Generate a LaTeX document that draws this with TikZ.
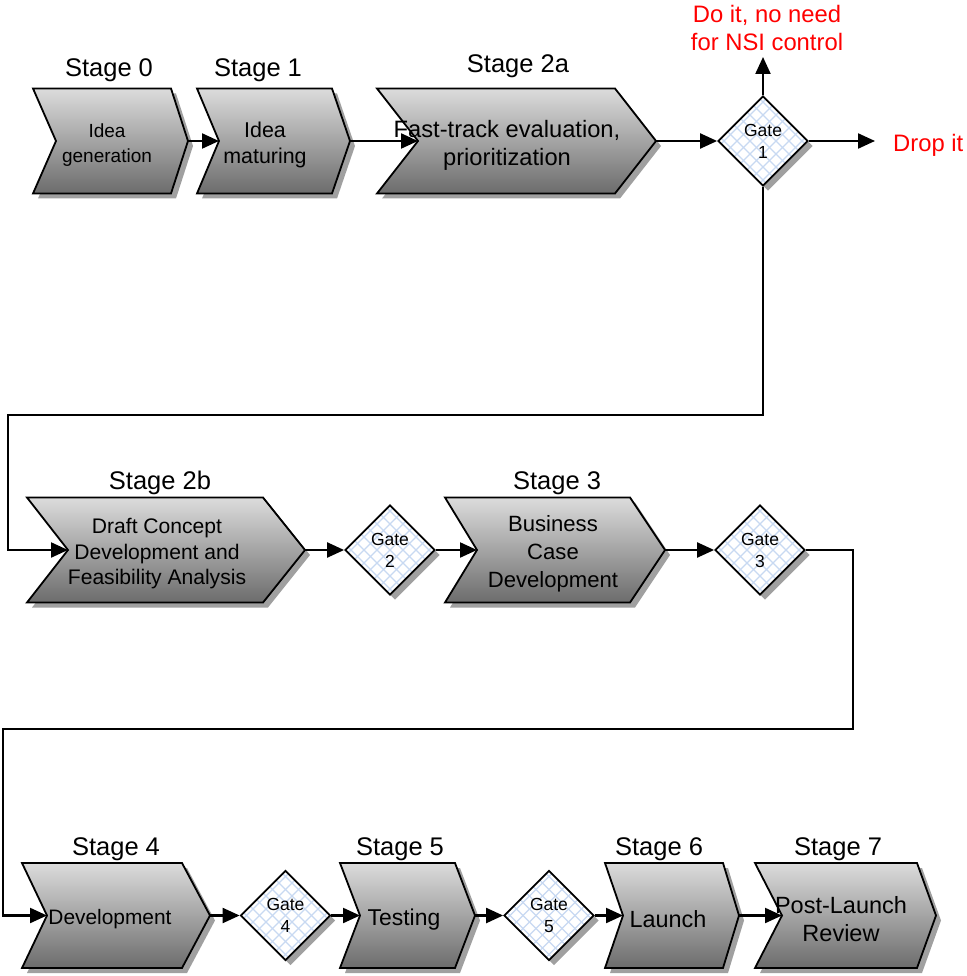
\documentclass[tikz,border=0pt]{standalone}
\usepackage{fontspec}
\setmainfont{Liberation Sans}
\usetikzlibrary{shapes.geometric,arrows.meta,shadows}

\definecolor{chtop}{RGB}{220,220,220}
\definecolor{chbot}{RGB}{108,108,108}
\definecolor{shadowgray}{RGB}{160,160,160}
\definecolor{gridblue}{RGB}{200,217,242}
\definecolor{notered}{RGB}{255,0,0}

\tikzset{
  chevron/.style={draw=black, line width=1.8pt, line join=miter,
    top color=chtop, bottom color=chbot},
  chshadow/.style={fill=shadowgray},
  chtext/.style={align=center, inner sep=0pt},
  stagelabel/.style={anchor=base, inner sep=0pt,
    font=\fontsize{25.5}{30}\selectfont},
  gate/.style={diamond, draw=black, line width=1.8pt, fill=white,
    minimum width=90pt, minimum height=90pt, inner sep=0pt, align=center,
    font=\fontsize{17.5}{22}\selectfont,
    drop shadow={shadow xshift=5pt, shadow yshift=-5pt,
      fill=shadowgray, opacity=1},
    path picture={
      \foreach \k in {-7,...,7}{
        \draw[gridblue, line width=1.1pt]
          ([shift={(\k*13-70,-70)}]path picture bounding box.center) -- ++(140,140);
        \draw[gridblue, line width=1.1pt]
          ([shift={(\k*13-70,70)}]path picture bounding box.center) -- ++(140,-140);
      }}},
  flow/.style={line width=2.2pt, -{Triangle[length=17pt,width=15pt]}},
  note/.style={text=notered, inner sep=0pt, font=\fontsize{23.8}{27.5}\selectfont}
}

% \chev[text options]{name}{left x}{mid y}{notch depth}{top-right x}{tip x}{text x}{text}
\newcommand\chev[9][]{%
  \fill[chshadow, shift={(5,5)}]
    (#3,{#4-52.5}) -- (#6,{#4-52.5}) -- (#7,#4) -- (#6,{#4+52.5})
    -- (#3,{#4+52.5}) -- ({#3+#5},#4) -- cycle;
  \draw[chevron]
    (#3,{#4-52.5}) -- (#6,{#4-52.5}) -- (#7,#4) -- (#6,{#4+52.5})
    -- (#3,{#4+52.5}) -- ({#3+#5},#4) -- cycle;
  \coordinate (#2-in) at ({#3+#5},#4);
  \coordinate (#2-out) at (#7,#4);
  \node[chtext,#1] (#2) at (#8,{#4+4}) {#9};
}

\begin{document}
\begin{tikzpicture}[x=1pt,y=-1pt]
\useasboundingbox (0,0) rectangle (966,976);

% stages
\chev[font=\fontsize{19}{25}\selectfont]{s0}{33}{141}{23}{171}{188}{107}{Idea\\generation}
\chev[font=\fontsize{21.4}{26}\selectfont]{s1}{197}{141}{22}{332}{350}{265}{Idea\\maturing}
\chev[font=\fontsize{23.7}{28}\selectfont]{s2a}{377}{141}{41}{615}{656}{507}{Fast-track evaluation,\\prioritization}
\chev[font=\fontsize{21.1}{25.5}\selectfont]{s2b}{27}{550}{41}{263}{305}{157}{Draft Concept\\Development and\\Feasibility Analysis}
\chev[font=\fontsize{22.1}{28}\selectfont]{s3}{445}{550}{32}{630}{665}{553}{Business\\Case\\Development}
\chev[font=\fontsize{20.9}{25}\selectfont]{s4}{22}{915.5}{25}{182}{210}{110}{Development}
\chev[font=\fontsize{22.9}{27}\selectfont]{s5}{340}{915.5}{20}{455}{475}{404}{Testing}
\chev[font=\fontsize{23.4}{28}\selectfont]{s6}{605}{915.5}{18}{723}{739}{668}{Launch}
\chev[font=\fontsize{23.5}{28}\selectfont]{s7}{755}{915.5}{27}{917}{936}{841}{Post-Launch\\Review}

% stage titles
\node[stagelabel] (l0)  at (109,77)  {Stage 0};
\node[stagelabel] (l1)  at (258,77)  {Stage 1};
\node[stagelabel] (l2a) at (518,73)  {Stage 2a};
\node[stagelabel] (l2b) at (160,489) {Stage 2b};
\node[stagelabel] (l3)  at (557,489) {Stage 3};
\node[stagelabel] (l4)  at (116,855) {Stage 4};
\node[stagelabel] (l5)  at (400,855) {Stage 5};
\node[stagelabel] (l6)  at (659,855) {Stage 6};
\node[stagelabel] (l7)  at (838,855) {Stage 7};

% gates
\node[gate] (g1) at (763,141)     {Gate\\1};
\node[gate] (g2) at (390,550)     {Gate\\2};
\node[gate] (g3) at (760,550)     {Gate\\3};
\node[gate] (g4) at (285.5,915.5) {Gate\\4};
\node[gate] (g5) at (549,915.5)   {Gate\\5};

% outcomes of gate 1
\node[note, align=center] (doit) at (767,28) {Do it, no need\\for NSI control};
\node[note, anchor=base west] (drop) at (893,152) {Drop it};
\coordinate (up) at (763,57);
\coordinate (dropend) at (875,141);

% routing corners
\coordinate (c1) at (8,415);
\coordinate (c2) at (853,729);
\coordinate (c3) at (3,729);

% connectors
\draw[flow] (s0-out) -- (s1-in);
\draw[flow] (s1-out) -- (s2a-in);
\draw[flow] (s2a-out) -- (g1.west);
\draw[flow] (g1.north) -- (up);
\draw[flow] (g1.east) -- (dropend);
\draw[flow] (g1.south) |- (c1) |- (s2b-in);
\draw[flow] (s2b-out) -- (g2.west);
\draw[flow] (g2.east) -- (s3-in);
\draw[flow] (s3-out) -- (g3.west);
\draw[flow] (g3.east) -| (c2) -- (c3) |- (s4-in);
\draw[flow] (s4-out) -- (g4.west);
\draw[flow] (g4.east) -- (s5-in);
\draw[flow] (s5-out) -- (g5.west);
\draw[flow] (g5.east) -- (s6-in);
\draw[flow] (s6-out) -- (s7-in);
\end{tikzpicture}
\end{document}
